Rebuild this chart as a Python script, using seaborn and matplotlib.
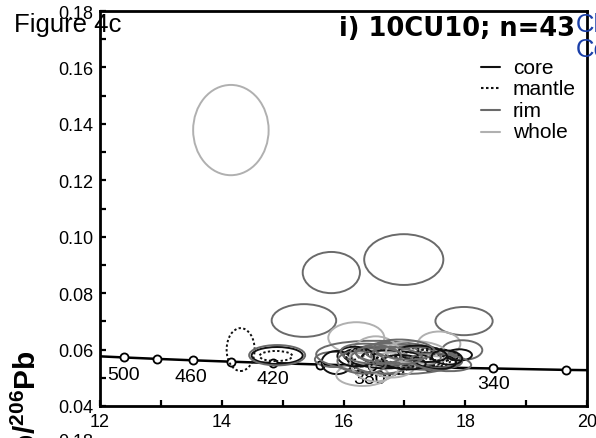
import numpy as np
import pandas as pd
import matplotlib
matplotlib.use("Agg")
import matplotlib.pyplot as plt
import seaborn as sns
from matplotlib.patches import Ellipse
from matplotlib.transforms import Affine2D
from matplotlib.ticker import FormatStrFormatter

# ---------------- data ----------------
# concordia curve: line ends + age markers
conc_x = [12.0, 12.40, 12.94, 13.52, 14.16, 14.85, 15.62, 16.47, 17.41, 18.46, 19.65, 20.0]
conc_y = [0.0576, 0.0572, 0.0567, 0.0562, 0.0557, 0.0552, 0.0547, 0.0542, 0.0537, 0.0533, 0.0528, 0.0527]
marker_ages = [500, 480, 460, 440, 420, 400, 380, 360, 340, 320]
marker_x = [12.40, 12.94, 13.52, 14.16, 14.85, 15.62, 16.47, 17.41, 18.46, 19.65]
marker_y = [0.0572, 0.0567, 0.0562, 0.0557, 0.0552, 0.0547, 0.0542, 0.0537, 0.0533, 0.0528]
age_labels = ["500", "460", "420", "380", "340"]
age_label_x = [12.38, 13.50, 14.84, 16.43, 18.46]
age_label_y = [0.0510, 0.0503, 0.0497, 0.0497, 0.0480]

# error ellipses: centre x, centre y, semi-axis x, semi-axis y, tilt (deg), zone
ell_x = [14.15, 15.80, 16.99, 15.35, 17.98, 16.21, 17.57, 17.95, 14.31, 14.91,
         14.91, 14.89, 15.84, 15.89, 16.31, 16.70, 17.90, 16.55, 16.90, 16.60,
         17.10, 17.30, 16.90, 17.20, 16.60, 17.40, 16.80, 16.53, 16.80, 17.20,
         17.00, 17.50, 16.90, 17.60, 16.20, 16.30, 17.55, 17.30, 17.00, 16.45,
         17.70, 16.30, 16.75]
ell_y = [0.1378, 0.0873, 0.0919, 0.0703, 0.0701, 0.0642, 0.0620, 0.0598, 0.0600, 0.0579,
         0.0580, 0.0577, 0.0565, 0.0554, 0.0510, 0.0572, 0.0581, 0.0570, 0.0565, 0.0545,
         0.0575, 0.0565, 0.0580, 0.0570, 0.0560, 0.0572, 0.0590, 0.0567, 0.0545, 0.0590,
         0.0555, 0.0560, 0.0555, 0.0555, 0.0575, 0.0555, 0.0582, 0.0585, 0.0600, 0.0585,
         0.0572, 0.0570, 0.0580]
ell_sx = [0.62, 0.47, 0.65, 0.53, 0.47, 0.46, 0.35, 0.33, 0.23, 0.42,
          0.46, 0.27, 0.31, 0.25, 0.43, 1.15, 0.21, 0.55, 0.60, 0.45,
          0.60, 0.45, 0.70, 0.75, 0.50, 0.55, 0.45, 0.43, 0.38, 0.50,
          0.35, 0.35, 0.30, 0.50, 0.30, 0.40, 0.35, 0.40, 0.50, 0.50,
          0.25, 0.25, 0.55]
ell_sy = [0.0160, 0.0073, 0.0090, 0.0058, 0.0050, 0.0055, 0.0044, 0.0035, 0.0076, 0.0030,
          0.0036, 0.0018, 0.0027, 0.0041, 0.0039, 0.0058, 0.0020, 0.0035, 0.0030, 0.0038,
          0.0030, 0.0025, 0.0040, 0.0040, 0.0045, 0.0035, 0.0035, 0.0080, 0.0044, 0.0040,
          0.0025, 0.0028, 0.0020, 0.0030, 0.0035, 0.0040, 0.0020, 0.0028, 0.0035, 0.0035,
          0.0025, 0.0030, 0.0030]
ell_ang = [0, 0, 0, 0, 0, 0, 0, 0, 0, 0,
           0, 0, 0, 0, 0, -3, 0, -6, -5, -4,
           -6, -5, -4, -5, -3, -6, -4, 0, 0, -3,
           -5, -6, -4, -6, -3, -4, -5, -6, -4, -5,
           -6, -3, -5]
ell_zone = ["whole", "rim", "rim", "rim", "rim", "whole", "whole", "rim", "mantle", "core",
            "rim", "mantle", "rim", "core", "whole", "rim", "core", "core", "core", "mantle",
            "mantle", "mantle", "rim", "rim", "rim", "rim", "rim", "whole", "whole", "whole",
            "core", "core", "mantle", "rim", "core", "rim", "mantle", "core", "rim", "rim",
            "core", "mantle", "rim"]

legend_labels = ["core", "mantle", "rim", "whole"]
title = "i) 10CU10; n=43"

# ---------------- style ----------------
sns.set_theme(style="ticks")
plt.rcParams["font.family"] = ["Liberation Sans", "DejaVu Sans"]
plt.rcParams["text.color"] = "black"
plt.rcParams["axes.labelcolor"] = "black"
plt.rcParams["xtick.color"] = "black"
plt.rcParams["ytick.color"] = "black"
plt.rcParams["mathtext.fontset"] = "custom"
plt.rcParams["mathtext.rm"] = "Liberation Sans"
plt.rcParams["mathtext.bf"] = "Liberation Sans:bold"

zone_style = {
    "core": dict(color="#111111", ls="-"),
    "mantle": dict(color="#111111", ls=(0, (1.2, 1.2))),
    "rim": dict(color="#6a6a6a", ls="-"),
    "whole": dict(color="#b0b0b0", ls="-"),
}

fig = plt.figure(figsize=(5.96, 4.39), dpi=100)
ax = fig.add_axes([100 / 596, 32 / 439, 487 / 596, 395 / 439])

ax.set_xlim(12, 20)
ax.set_ylim(0.04, 0.18)

# concordia
conc_df = pd.DataFrame({"x": conc_x, "y": conc_y})
sns.lineplot(data=conc_df, x="x", y="y", sort=False, estimator=None, color="black",
             linewidth=1.8, ax=ax, zorder=3, legend=False)
mk_df = pd.DataFrame({"x": marker_x, "y": marker_y, "age": marker_ages})
sns.scatterplot(data=mk_df, x="x", y="y", s=34, color="white", edgecolor="black",
                linewidth=1.3, ax=ax, zorder=4, legend=False)
for lab, lx, ly in zip(age_labels, age_label_x, age_label_y):
    ax.text(lx, ly, lab, ha="center", va="center", fontsize=14, color="black", zorder=2)

# ellipses
K = 50.0
tr = Affine2D().scale(1, 1 / K) + ax.transData
for cx, cy, sx, sy, a, z in zip(ell_x, ell_y, ell_sx, ell_sy, ell_ang, ell_zone):
    st = zone_style[z]
    e = Ellipse((cx, cy * K), 2 * sx, 2 * sy * K, angle=a, transform=tr, fill=False,
                edgecolor=st["color"], linestyle=st["ls"], linewidth=1.4, zorder=5)
    ax.add_patch(e)

# axes styling
ax.set_xticks([12, 14, 16, 18, 20])
ax.set_xticks([13, 15, 17, 19], minor=True)
ax.set_yticks([0.04, 0.06, 0.08, 0.10, 0.12, 0.14, 0.16, 0.18])
ax.set_yticks([0.05, 0.07, 0.09, 0.11, 0.13, 0.15, 0.17], minor=True)
ax.yaxis.set_major_formatter(FormatStrFormatter("%.2f"))
ax.tick_params(which="both", direction="in", length=4, width=1.6, colors="black",
               labelcolor="black", labelsize=13, pad=5)
for sp in ax.spines.values():
    sp.set_visible(True)
    sp.set_linewidth(2.0)
    sp.set_color("black")
ax.set_xlabel("")
ax.set_ylabel("")
ax.grid(False)

# title
ax.text(0.975, 0.939, title, transform=ax.transAxes, ha="right", va="baseline",
        fontsize=18.5, fontweight="bold", family=["DejaVu Sans"], color="black")

# legend (manual)
leg_y = [0.858, 0.805, 0.749, 0.694]
for lab, yy in zip(legend_labels, leg_y):
    st = zone_style[lab]
    ax.plot([0.782, 0.821], [yy, yy], transform=ax.transAxes, color=st["color"],
            linestyle=st["ls"], linewidth=1.5, zorder=6)
    ax.text(0.848, yy, lab, transform=ax.transAxes, ha="left", va="center",
            fontsize=15, color="black", zorder=6)

# figure texts
fig.text(14 / 596, (439 - 32) / 439, "Figure 4c", ha="left", va="baseline",
         fontsize=18.5, color="black")
fig.text(576 / 596, (439 - 32) / 439, "Cl", ha="left", va="baseline", fontsize=18.5,
         color="#1a3fa8")
fig.text(576 / 596, (439 - 57) / 439, "Co", ha="left", va="baseline", fontsize=18.5,
         color="#1a3fa8")
fig.text(27 / 596, (439 - 350) / 439, r"$^{\mathbf{207}}$Pb/$^{\mathbf{206}}$Pb",
         rotation=90, ha="center", va="top", fontsize=21.5, fontweight="bold",
         color="black")
fig.text(93 / 596, (439 - 443) / 439, "0.18", ha="right", va="center", fontsize=13,
         color="black")

fig.savefig("out.png", dpi=100)
